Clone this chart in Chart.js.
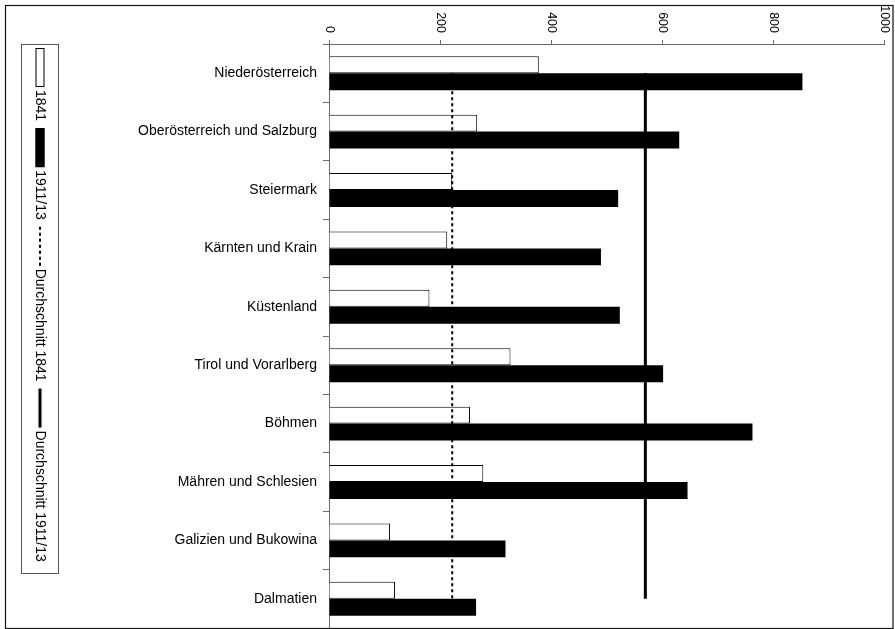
<!DOCTYPE html>
<html>
<head>
<meta charset="utf-8">
<title>Chart</title>
<script src="https://cdn.jsdelivr.net/npm/chart.js@4.4.1/dist/chart.umd.min.js"></script>
<style>
  body { margin: 0; background: #fff; }
  canvas { display: block; }
</style>
</head>
<body>
<canvas id="main_chart" width="895" height="629"></canvas>
<script>
const categories = ["Niederösterreich", "Oberösterreich und Salzburg", "Steiermark", "Kärnten und Krain", "Küstenland", "Tirol und Vorarlberg", "Böhmen", "Mähren und Schlesien", "Galizien und Bukowina", "Dalmatien"];
const values_1841 = [378, 267, 222, 213, 181, 327, 254, 278, 110, 119];
const values_1911 = [853, 631, 521, 490, 524, 602, 763, 646, 318, 265];
const avg_1841 = [222, 222, 222, 222, 222, 222, 222, 222, 222, 222];
const avg_1911 = [570, 570, 570, 570, 570, 570, 570, 570, 570, 570];
const x_ticks = [0, 200, 400, 600, 800, 1000];
const series_labels = ["1841", "1911/13", "Durchschnitt 1841", "Durchschnitt 1911/13"];

const FONT = "'Liberation Sans', Arial, Helvetica, sans-serif";
const AXIS_COLOR = "#6a6a6a";

Chart.defaults.font.family = FONT;
Chart.defaults.color = "#000";

// white page + thin frame round everything
const frame_plugin = {
  id: "frame",
  beforeDraw: function(chart) {
    const ctx = chart.ctx;
    ctx.save();
    ctx.fillStyle = "#fff";
    ctx.fillRect(0, 0, chart.width, chart.height);
    ctx.restore();
  },
  afterDraw: function(chart) {
    const ctx = chart.ctx;
    ctx.save();
    ctx.strokeStyle = "#111";
    ctx.lineWidth = 1.2;
    ctx.strokeRect(5.5, 5.5, 887.5, 623);
    ctx.restore();
  }
};

// top axis labels, turned clockwise
const top_ticks_plugin = {
  id: "top_ticks",
  afterDraw: function(chart) {
    const ctx = chart.ctx;
    const scale = chart.scales.x;
    ctx.save();
    ctx.font = "12.5px " + FONT;
    ctx.fillStyle = "#000";
    ctx.textAlign = "right";
    ctx.textBaseline = "middle";
    scale.ticks.forEach(function(t) {
      const px = scale.getPixelForValue(t.value);
      ctx.save();
      ctx.translate(px, scale.bottom - 11);
      ctx.rotate(Math.PI / 2);
      ctx.fillText(String(t.value), 0, 0);
      ctx.restore();
    });
    ctx.restore();
  }
};

// legend box on the left, text running downwards
const side_legend_plugin = {
  id: "side_legend",
  afterDraw: function(chart) {
    const ctx = chart.ctx;
    const cx = 40;
    const sym_len = 39;
    ctx.save();
    ctx.strokeStyle = "#555";
    ctx.lineWidth = 1;
    ctx.strokeRect(21.5, 44.5, 37, 529);
    ctx.font = "14px " + FONT;
    ctx.fillStyle = "#000";
    ctx.textBaseline = "middle";
    ctx.textAlign = "left";
    let y = 48;
    chart.data.datasets.forEach(function(ds, i) {
      ctx.save();
      ctx.translate(cx, y);
      ctx.rotate(Math.PI / 2);
      if (ds.type === "line") {
        ctx.strokeStyle = "#000";
        ctx.lineWidth = ds.borderWidth;
        ctx.setLineDash(ds.borderDash || []);
        ctx.beginPath();
        ctx.moveTo(0, 0);
        ctx.lineTo(sym_len, 0);
        ctx.stroke();
        ctx.setLineDash([]);
      } else {
        ctx.fillStyle = ds.backgroundColor;
        ctx.fillRect(0, -4.5, sym_len, 9);
        ctx.strokeStyle = "#000";
        ctx.lineWidth = 1;
        ctx.strokeRect(0.5, -4, sym_len - 1, 8);
      }
      ctx.fillStyle = "#000";
      ctx.fillText(ds.label, sym_len + 3, 0);
      const w = ctx.measureText(ds.label).width;
      ctx.restore();
      y += sym_len + 3 + w + 7;
    });
    ctx.restore();
  }
};

const main_chart = new Chart("main_chart", {
  type: "bar",
  data: {
    labels: categories,
    datasets: [{
      label: series_labels[0],
      data: values_1841,
      backgroundColor: "#fff",
      borderColor: "#000",
      borderWidth: 1,
      categoryPercentage: 0.58,
      barPercentage: 1.0,
      order: 2
    }, {
      label: series_labels[1],
      data: values_1911,
      backgroundColor: "#000",
      borderColor: "#000",
      borderWidth: 0,
      categoryPercentage: 0.58,
      barPercentage: 1.0,
      order: 2
    }, {
      type: "line",
      indexAxis: "y",
      label: series_labels[2],
      data: avg_1841,
      borderColor: "#000",
      borderWidth: 2,
      borderDash: [3, 3],
      pointRadius: 0,
      fill: false,
      order: 1
    }, {
      type: "line",
      indexAxis: "y",
      label: series_labels[3],
      data: avg_1911,
      borderColor: "#000",
      borderWidth: 3,
      pointRadius: 0,
      fill: false,
      order: 1
    }]
  },
  options: {
    indexAxis: "y",
    responsive: false,
    animation: false,
    events: [],
    layout: {
      padding: { left: 0, right: 11, top: 0, bottom: 1 }
    },
    plugins: {
      legend: { display: false },
      tooltip: { enabled: false }
    },
    scales: {
      x: {
        position: "top",
        min: 0,
        max: 1000,
        afterBuildTicks: function(scale) {
          scale.ticks = x_ticks.map(function(v) { return { value: v }; });
        },
        afterFit: function(scale) {
          scale.height = 44;
          scale.paddingLeft = 0;
          scale.paddingRight = 0;
        },
        ticks: { display: false },
        border: { color: AXIS_COLOR, width: 1 },
        grid: {
          drawOnChartArea: false,
          drawTicks: true,
          tickLength: 4,
          color: AXIS_COLOR
        }
      },
      y: {
        afterFit: function(scale) {
          scale.width = 329;
          scale.paddingTop = 0;
          scale.paddingBottom = 0;
        },
        ticks: {
          font: { size: 14 },
          color: "#000",
          padding: 6
        },
        border: { color: AXIS_COLOR, width: 1 },
        grid: {
          drawOnChartArea: false,
          drawTicks: true,
          tickLength: 6,
          offset: true,
          color: AXIS_COLOR
        }
      }
    }
  },
  plugins: [frame_plugin, top_ticks_plugin, side_legend_plugin]
});
</script>
</body>
</html>
